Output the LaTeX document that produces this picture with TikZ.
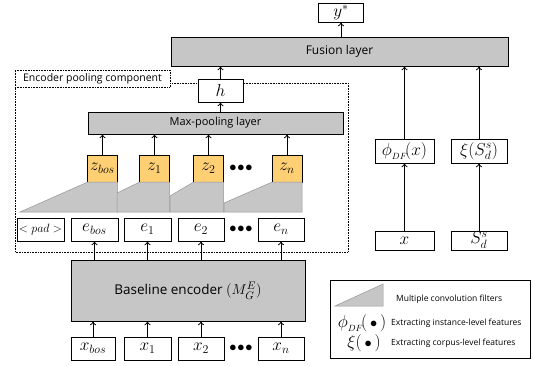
\documentclass[tikz,border=0pt]{standalone}
\usepackage{amsmath}
\usepackage{fontspec}
\setsansfont{Open Sans}
\usetikzlibrary{positioning,arrows.meta,calc}
\definecolor{lyGray}{RGB}{198,198,198}
\definecolor{lyEdge}{RGB}{150,150,150}
\definecolor{lyZ}{RGB}{255,208,115}
\tikzset{
    base/.style={align=center, inner sep=0pt},
    layer/.style={base, rectangle, draw=black, fill=lyGray, font=\sffamily\fontsize{11}{13}\selectfont},
    token/.style={base, rectangle, draw=black, fill=white, minimum height=23pt,
                  font=\fontsize{17}{19}\selectfont},
    zbox/.style={token, fill=lyZ, minimum width=30pt, minimum height=27pt},
    feat/.style={token, minimum height=24pt},
    filter/.style={fill=lyGray, draw=lyEdge, line width=0.5pt},
    flow/.style={-{To[length=4pt,width=6pt]}, line width=0.8pt},
    note/.style={base, anchor=west, font=\sffamily\fontsize{8.5}{10}\selectfont},
    dots/.style={base, font=\fontsize{14}{16}\selectfont}
}

\begin{document}
\begin{tikzpicture}[x=1pt, y=-1pt,
    pool box/.style={draw, densely dotted, line width=0.6pt}
]
  \useasboundingbox (0,0) rectangle (533,365);

  % encoder pooling component frame
  \draw[pool box] (15,83) rectangle (348,252);
  \node[base, pool box, fill=white, minimum width=155pt, minimum height=17pt,
        font=\sffamily\fontsize{10.5}{12}\selectfont] (plabel) at (92.5,78.5) {Encoder pooling component};

  % top
  \node[token, minimum width=45pt, minimum height=19pt] (ystar) at (341,12.5) {$y^{*}$};
  \node[layer, minimum width=337pt, minimum height=29pt, font=\sffamily\fontsize{12}{14}\selectfont]
       (fusion) at (339.5,51.5) {Fusion layer};
  \node[token, minimum width=45pt, font=\fontsize{19}{21}\selectfont] (h) at (220.5,90.5) {$h$};
  \node[layer, minimum width=255pt, minimum height=22pt] (maxpool) at (215.5,123) {Max-pooling layer};

  % z row
  \node[zbox] (zbos) at (102.5,168.5) {$z_{bos}$};
  \node[zbox] (z1) at (154.5,168.5) {$z_1$};
  \node[zbox] (z2) at (208.5,168.5) {$z_2$};
  \node[zbox] (zn) at (287,168.5) {$z_n$};
  \node[dots] (zdots) at (241,168.5) {$\bullet\!\bullet\!\bullet$};

  % filters
  \draw[filter] (20,212) -- (zbos.south west) -- (zbos.south east) -- (zbos.south east |- 0,212) -- cycle;
  \draw[filter] (117,193) -- (z1.south west) -- (z1.south east) -- (z1.south east |- 0,212) -- (117,212) -- cycle;
  \draw[filter] (170,196) -- (z2.south west) -- (z2.south east) -- (z2.south east |- 0,212) -- (170,212) -- cycle;
  \draw[filter] (224,203) -- (zn.south west) -- (zn.south east) -- (zn.south east |- 0,212) -- (224,212) -- cycle;

  % e row
  \node[token, minimum width=47pt] (pad) at (40.5,229.5) {\fontsize{12}{14}\selectfont$<pad>$};
  \node[token, minimum width=47pt] (ebos) at (94.5,229.5) {$e_{bos}$};
  \node[token, minimum width=47pt] (e1) at (147.5,229.5) {$e_1$};
  \node[token, minimum width=46pt] (e2) at (201,229.5) {$e_2$};
  \node[token, minimum width=46pt] (en) at (281,229.5) {$e_n$};
  \node[dots] (edots) at (241,229.5) {$\bullet\!\bullet\!\bullet$};

  % encoder and inputs
  \node[layer, minimum width=234pt, minimum height=61pt, font=\sffamily\fontsize{13.5}{16}\selectfont]
       (encoder) at (188,290.5) {Baseline encoder \fontsize{15}{17}\selectfont$(M_G^E)$};
  \node[token, minimum width=44pt] (xbos) at (93,348.5) {$x_{bos}$};
  \node[token, minimum width=47pt] (x1) at (147.5,348.5) {$x_1$};
  \node[token, minimum width=46pt] (x2) at (201,348.5) {$x_2$};
  \node[token, minimum width=46pt] (xn) at (281,348.5) {$x_n$};
  \node[dots] (xdots) at (241,348.5) {$\bullet\!\bullet\!\bullet$};

  % right branch
  \node[feat, minimum width=59pt, font=\fontsize{19}{21}\selectfont] (phi) at (404.5,151) {$\phi_{_{DF}}\!(x)$};
  \node[feat, minimum width=56pt] (xi) at (479,151) {$\xi(S_d^s)$};
  \node[token, minimum width=59pt, minimum height=19pt] (xin) at (404.5,240.5) {$x$};
  \node[token, minimum width=56pt, minimum height=19pt] (sd) at (479,240.5) {$S_d^s$};

  % arrows
  \foreach \n in {xbos,x1,x2,xn}
    \draw[flow] (\n.north) -- (\n.north |- encoder.south);
  \foreach \n in {ebos,e1,e2,en}
    \draw[flow] (encoder.north -| \n) -- (\n.south);
  \foreach \n in {zbos,z1,z2,zn}
    \draw[flow] (\n.north) -- (\n.north |- maxpool.south);
  \draw[flow] (maxpool.north -| h) -- (h.south);
  \draw[flow] (h.north) -- (h.north |- fusion.south);
  \draw[flow] (fusion.north -| ystar) -- (ystar.south);
  \draw[flow] (phi.north) -- (phi.north |- fusion.south);
  \draw[flow] (xi.north) -- (xi.north |- fusion.south);
  \draw[flow] (xin) -- (phi);
  \draw[flow] (sd) -- (xi);

  % legend
  \node[base, draw, minimum width=200pt, minimum height=78pt] (legend) at (430,319) {};
  \coordinate (ltri) at (383,306);
  \draw[filter] (335,306) -- (383,284) -- (ltri) -- cycle;
  \node[note] (lconv) at (396,299) {Multiple convolution filters};
  \node[base, font=\fontsize{19}{21}\selectfont] (lphi) at (362,323) {$\phi_{_{DF}}\!(\,{\scriptstyle\bullet}\,)$};
  \node[note] (linst) at (391,323) {Extracting instance-level features};
  \node[base, font=\fontsize{19}{21}\selectfont] (lxi) at (364,343) {$\xi(\,{\scriptstyle\bullet}\,)$};
  \node[note] (lcorp) at (391,343) {Extracting corpus-level features};
\end{tikzpicture}
\end{document}
